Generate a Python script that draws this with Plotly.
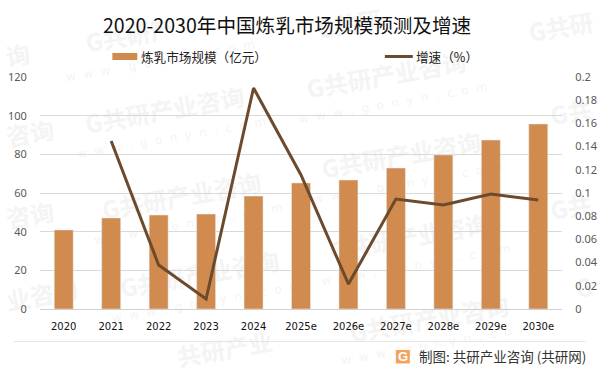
import plotly.graph_objects as go

categories = ["2020","2021","2022","2023","2024","2025e","2026e","2027e","2028e","2029e","2030e"]
market_size = [40.9,47.1,48.6,49.1,58.4,65.2,66.7,72.9,79.7,87.4,95.7]
growth = [None,0.1448,0.0379,0.0086,0.1905,0.1155,0.0215,0.0948,0.0897,0.0991,0.094]
left_ticks = [0,20,40,60,80,100,120]
right_ticks = [0,0.02,0.04,0.06,0.08,0.1,0.12,0.14,0.16,0.18,0.2]
right_labels = ["0","0.02","0.04","0.06","0.08","0.1","0.12","0.14","0.16","0.18","0.2"]
title_text = "2020-2030年中国炼乳市场规模预测及增速"
bar_name = "炼乳市场规模（亿元）"
line_name = "增速（%）"
source_text = "制图: 共研产业咨询 (共研网)"
wm_text = "G共研产业咨询"
wm_url = "w  w  w  .  g  o  n  y  n  .  c  o  m"

FONT = "Noto Sans CJK SC"
W, H = 601, 373
L, R, T, B = 39.5, 38.5, 77, 64
def px(x): return (x - L) / (W - L - R)
def py(y): return 1 - (y - T) / (H - T - B)

BAR = "#D28B4F"
LINE = "#6B4A2E"
WM = "#F4F4F4"

fig = go.Figure()
fig.add_bar(x=categories, y=market_size, marker_color=BAR, name=bar_name, yaxis="y")
fig.add_scatter(x=categories, y=growth, mode="lines", line=dict(color=LINE, width=3),
                name=line_name, yaxis="y2")

shapes = []
def wm(cx, cy, text, url=None, ux=None, uy=None):
    shapes.append(dict(type="rect", layer="below", xref="paper", yref="paper",
                       x0=px(cx-4), x1=px(cx+4), y0=py(cy-4), y1=py(cy+4),
                       line_width=0, fillcolor="rgba(0,0,0,0)",
                       label=dict(text="<b>%s</b>" % text, textangle=-10, textposition="middle center",
                                  font=dict(family=FONT, size=24, color=WM))))
    if url:
        shapes.append(dict(type="rect", layer="below", xref="paper", yref="paper",
                           x0=px(ux-4), x1=px(ux+4), y0=py(uy-4), y1=py(uy+4),
                           line_width=0, fillcolor="rgba(0,0,0,0)",
                           label=dict(text=url, textangle=-10, textposition="middle center",
                                      font=dict(family="DejaVu Sans", size=12, color=WM))))

# complete watermarks
for cx, cy in [(165,113),(387,78),(182,199),(402,158),(200,277),(410,240)]:
    wm(cx, cy, wm_text, wm_url, cx+6, cy+24)
wm(430, 322, wm_text, wm_url, 436, 343)
wm(130, 38, "G共研产", wm_url, 160, 60)
# watermarks that the window cuts: only the visible part of the text
wm(562, 30, "G共研")
wm(572, 115, "G共")
wm(572, 210, "G共")
wm(585, 290, "G")
wm(18, 58, "询")
wm(30, 136, "咨询")
wm(30, 218, "咨询")
wm(42, 298, "业咨询")
wm(225, 352, "共研产业")
wm(350, 27, "G共研")

def note(x, y, text, size, color, family=FONT, xanchor="left"):
    return dict(x=px(x), y=py(y), xref="paper", yref="paper", text=text, showarrow=False,
                xanchor=xanchor, yanchor="middle", font=dict(family=family, size=size, color=color))

annotations = [
    note(287, 24, title_text, 19.6, "#111111", xanchor="center"),
    note(139, 57, bar_name, 12.6, "#222222"),
    note(414, 57, line_name, 12.6, "#222222"),
    note(417, 356, source_text, 13.5, "#333333"),
    note(403, 356.5, "<b>G</b>", 13, "white", family="Liberation Sans", xanchor="center"),
]

shapes += [
    dict(type="rect", xref="paper", yref="paper", x0=px(112), x1=px(137), y0=py(53), y1=py(60),
         fillcolor=BAR, line_width=0),
    dict(type="line", xref="paper", yref="paper", x0=px(385), x1=px(413), y0=py(56.5), y1=py(56.5),
         line=dict(color=LINE, width=3)),
    dict(type="line", xref="paper", yref="paper", x0=px(13), x1=px(586), y0=py(341.5), y1=py(341.5),
         line=dict(color="#E6E6E6", width=1)),
    dict(type="rect", xref="paper", yref="paper", x0=px(396), x1=px(410), y0=py(350), y1=py(363.5),
         fillcolor="#F4A25E", line_width=0),
]

tick_font = dict(family="Noto Sans", size=11, color="#595959")
fig.update_layout(
    width=W, height=H, autosize=False,
    margin=dict(l=L, r=R, t=T, b=B, autoexpand=False),
    paper_bgcolor="white", plot_bgcolor="rgba(0,0,0,0)",
    bargap=0.6, showlegend=False, annotations=annotations, shapes=shapes,
    font=dict(family=FONT),
    xaxis=dict(showgrid=False, showline=True, linecolor="#D0D0D0", linewidth=1, ticks="outside", ticklen=8,
               tickcolor="rgba(0,0,0,0)", tickfont=dict(family="DejaVu Sans", size=10, color="#111111"),
               type="category"),
    yaxis=dict(range=[0,120], tickvals=left_ticks, showgrid=True, gridcolor="#D9D9D9", gridwidth=1,
               zeroline=False, showline=False, tickfont=tick_font, ticks="outside",
               ticklen=10, tickcolor="rgba(0,0,0,0)"),
    yaxis2=dict(range=[0,0.2], overlaying="y", side="right", anchor="x",
                tickvals=right_ticks, ticktext=right_labels, showgrid=False, zeroline=False, showline=False,
                tickfont=tick_font, ticks="outside", ticklen=10, tickcolor="rgba(0,0,0,0)"),
)
fig.write_html("out.html", config={"displayModeBar": False},
               post_script="document.body.style.margin='0';document.documentElement.style.overflow='hidden';")
